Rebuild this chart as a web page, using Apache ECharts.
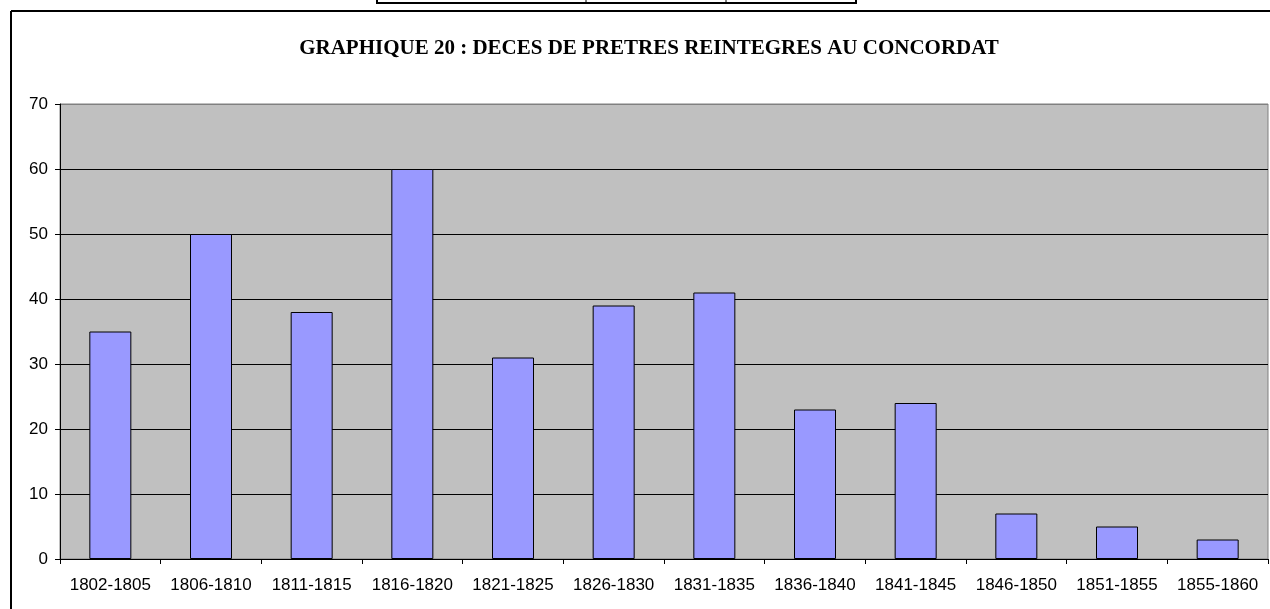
<!DOCTYPE html>
<html>
<head>
<meta charset="utf-8">
<script src="https://cdn.jsdelivr.net/npm/echarts@6/dist/echarts.min.js"></script>
<style>
    html, body { margin: 0; padding: 0; background: #ffffff; }
    #chart { width: 1270px; height: 609px; }
</style>
</head>
<body>
<div id="chart"></div>
<script>
// Periods and number of deaths
var periods = ['1802-1805','1806-1810','1811-1815','1816-1820','1821-1825','1826-1830',
               '1831-1835','1836-1840','1841-1845','1846-1850','1851-1855','1855-1860'];
var deaths = [35, 50, 38, 60, 31, 39, 41, 23, 24, 7, 5, 3];
var yTicks = { min: 0, max: 70, interval: 10 };
var titleText = 'GRAPHIQUE 20 : DECES DE PRETRES REINTEGRES AU CONCORDAT';

var chart = echarts.init(document.getElementById('chart'));

var option = {
    animation: false,
    title: {
        text: titleText,
        left: 644,
        top: 33,
        textAlign: 'center',
        textStyle: {
            fontFamily: '"Liberation Serif", "Times New Roman", serif',
            fontWeight: 'bold',
            fontSize: 21,
            color: '#000'
        }
    },
    // frame of the chart object and the bottom of the table above it
    graphic: [
        { type: 'line', shape: { x1: 11, y1: 11, x2: 1270, y2: 11 }, style: { stroke: '#000', lineWidth: 2 } },
        { type: 'line', shape: { x1: 11, y1: 11, x2: 11, y2: 609 }, style: { stroke: '#000', lineWidth: 2 } },
        { type: 'line', shape: { x1: 376, y1: 3, x2: 857, y2: 3 }, style: { stroke: '#000', lineWidth: 2 } },
        { type: 'line', shape: { x1: 377, y1: 0, x2: 377, y2: 4 }, style: { stroke: '#000', lineWidth: 2 } },
        { type: 'line', shape: { x1: 586, y1: 0, x2: 586, y2: 4 }, style: { stroke: '#000', lineWidth: 1 } },
        { type: 'line', shape: { x1: 726, y1: 0, x2: 726, y2: 4 }, style: { stroke: '#000', lineWidth: 1 } },
        { type: 'line', shape: { x1: 856, y1: 0, x2: 856, y2: 4 }, style: { stroke: '#000', lineWidth: 2 } }
    ],
    grid: {
        left: 60,
        top: 104,
        right: 2,
        bottom: 50,
        show: true,
        backgroundColor: '#c0c0c0',
        borderColor: '#808080',
        borderWidth: 1
    },
    xAxis: {
        type: 'category',
        data: periods,
        boundaryGap: true,
        axisLine: { lineStyle: { color: '#000', width: 1 } },
        axisTick: { show: true, length: 5, alignWithLabel: false, lineStyle: { color: '#000' } },
        axisLabel: {
            interval: 0,
            margin: 18,
            color: '#000',
            fontFamily: '"Liberation Sans", Arial, sans-serif',
            fontSize: 17
        }
    },
    yAxis: {
        type: 'value',
        min: yTicks.min,
        max: yTicks.max,
        interval: yTicks.interval,
        axisLine: { show: true, lineStyle: { color: '#000', width: 1 } },
        axisTick: { show: true, length: 5, lineStyle: { color: '#000' } },
        // last split line sits on the grey plot border
        splitLine: { lineStyle: { color: ['#000', '#000', '#000', '#000', '#000', '#000', '#000', '#808080'], width: 1 } },
        axisLabel: {
            margin: 12,
            color: '#000',
            fontFamily: '"Liberation Sans", Arial, sans-serif',
            fontSize: 17
        }
    },
    series: [{
        type: 'bar',
        data: deaths,
        barWidth: 42,
        itemStyle: {
            color: '#9999ff',
            borderColor: '#000',
            borderWidth: 1
        }
    }]
};

chart.setOption(option);
</script>
</body>
</html>
